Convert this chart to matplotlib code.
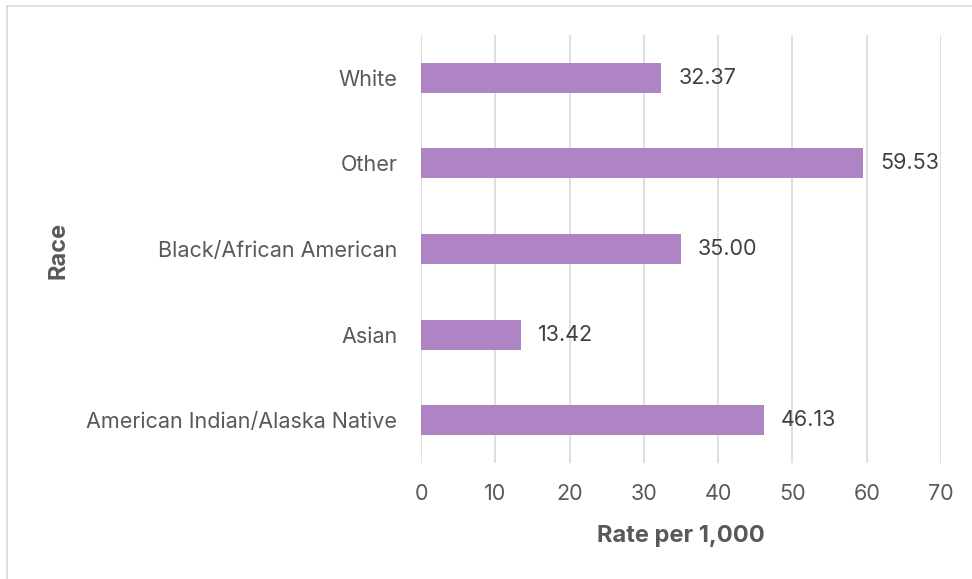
import matplotlib.pyplot as plt
from matplotlib.lines import Line2D

# Rates per 1,000 by race (bottom to top)
races = ['American Indian/Alaska Native', 'Asian', 'Black/African American', 'Other', 'White']
rates = [46.13, 13.42, 35.00, 59.53, 32.37]
xticks = [0, 10, 20, 30, 40, 50, 60, 70]

bar_color = '#AF84C5'
text_color = '#595959'
grid_color = '#D9D9D9'

plt.rcParams['font.family'] = ['Inter', 'DejaVu Sans']

fig = plt.figure(figsize=(9.72, 5.79), dpi=100)
ax = fig.add_axes([421 / 972, 1 - 463 / 579, (941 - 421) / 972, (463 - 35) / 579])

ypos = list(range(len(races)))
ax.barh(ypos, rates, height=0.35, color=bar_color, zorder=3)

for y, v in zip(ypos, rates):
    ax.text(v + 2.3, y, f'{v:.2f}', va='center', ha='left', fontsize=15.5, color='#404040')

ax.set_xlim(0, 70)
ax.set_ylim(-0.5, len(races) - 0.5)
ax.set_xticks(xticks)
ax.set_yticks(ypos)
ax.set_yticklabels(races)
ax.tick_params(axis='both', length=0, labelsize=15.5, colors=text_color)
ax.tick_params(axis='y', pad=17)
ax.tick_params(axis='x', pad=15)

ax.grid(axis='x', color=grid_color, linewidth=1.2, zorder=0)
for s in ax.spines.values():
    s.set_visible(False)

ax.set_xlabel('Rate per 1,000', fontsize=17, fontweight='bold', color=text_color, labelpad=15)
fig.text(58 / 972, 1 - 250 / 579, 'Race', rotation=90, fontsize=17, fontweight='bold',
         color=text_color, ha='center', va='center')

# chart frame (top and left edges)
fig.add_artist(Line2D([7 / 972, 1], [1 - 6 / 579, 1 - 6 / 579], color=grid_color, linewidth=1.2))
fig.add_artist(Line2D([7 / 972, 7 / 972], [0, 1 - 6 / 579], color=grid_color, linewidth=1.2))

fig.savefig('out.png', dpi=100)
